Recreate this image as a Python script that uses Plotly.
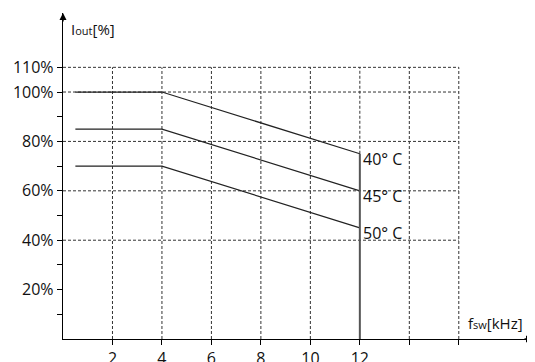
import plotly.graph_objects as go

# derating curves, output current vs switching frequency
freq_khz = [0.5, 4, 12]
iout_40 = [100, 100, 75]
iout_45 = [85, 85, 60]
iout_50 = [70, 70, 45]
curve_labels = ["40° C", "45° C", "50° C"]

x_ticks = [2, 4, 6, 8, 10, 12, 14, 16]
x_ticktext = ["2", "4", "6", "8", "10", "12", "", ""]
y_ticks = [20, 40, 60, 80, 100, 110]
y_ticktext = ["20%", "40%", "60%", "80%", "100%", "110%"]
y_minor = [10, 30, 50, 70, 90]
y_grid = [40, 60, 80, 100, 110]
x_grid = [2, 4, 6, 8, 10, 14, 16]

FONT = "Open Sans"
fig = go.Figure()

for ys in [iout_40, iout_45, iout_50]:
    fig.add_trace(go.Scatter(x=freq_khz, y=ys, mode="lines",
                             line=dict(color="#222", width=1.2),
                             hoverinfo="skip", showlegend=False))

grid = dict(color="#333", width=1, dash="3px,2px")
for gy in y_grid:
    fig.add_shape(type="line", x0=0, x1=16, y0=gy, y1=gy, xref="x", yref="y",
                  line=grid, layer="below")
for gx in x_grid:
    fig.add_shape(type="line", x0=gx, x1=gx, y0=0, y1=110, xref="x", yref="y",
                  line=grid, layer="below")
# at 12 kHz: dashed above the 40C curve end, solid below
fig.add_shape(type="line", x0=12, x1=12, y0=iout_40[-1], y1=110, xref="x", yref="y",
              line=grid, layer="below")
fig.add_shape(type="line", x0=12, x1=12, y0=0, y1=iout_40[-1], xref="x", yref="y",
              line=dict(color="#555", width=2))

for lab, ys in zip(curve_labels, [iout_40, iout_45, iout_50]):
    fig.add_annotation(x=freq_khz[-1], y=ys[-1], text=lab, showarrow=False,
                       xanchor="left", yanchor="middle", xshift=1, yshift=-5,
                       font=dict(family=FONT, size=16, color="#111"))

# arrow heads on the axes
fig.add_annotation(x=19, y=0, ax=-10, ay=0, xref="x", yref="y",
                   text="", showarrow=True, arrowhead=2, arrowsize=1, arrowwidth=1.4,
                   arrowcolor="black")
fig.add_annotation(x=0, y=132, ax=0, ay=10, xref="x", yref="y",
                   text="", showarrow=True, arrowhead=2, arrowsize=1, arrowwidth=1.4,
                   arrowcolor="black")

# axis titles
fig.add_annotation(x=0.25, y=125.5, xref="x", yref="y", xanchor="left", yanchor="middle",
                   text="I<span style='font-size:11px'>out</span>[%]", showarrow=False,
                   font=dict(family=FONT, size=15, color="#111"))
fig.add_annotation(x=16.3, y=6.5, xref="x", yref="y", xanchor="left", yanchor="middle",
                   text="f<span style='font-size:11px'>sw</span>[kHz]", showarrow=False,
                   font=dict(family=FONT, size=15, color="#111"))

fig.update_xaxes(range=[0, 19], showgrid=False, zeroline=False, automargin=False,
                 showline=True, linecolor="black", linewidth=1.4,
                 tickvals=x_ticks, ticktext=x_ticktext, ticks="outside", ticklen=5,
                 tickcolor="black", tickfont=dict(family=FONT, size=16, color="#111"))
fig.update_yaxes(range=[0, 132], showgrid=False, zeroline=False, automargin=False,
                 showline=True, linecolor="black", linewidth=1.4,
                 tickvals=y_ticks, ticktext=y_ticktext, ticks="outside", ticklen=5,
                 tickcolor="black", tickfont=dict(family=FONT, size=16, color="#111"),
                 minor=dict(tickvals=y_minor, ticks="outside", ticklen=5, tickcolor="black"))

# page body has an 8px margin, so the figure is offset by it
fig.update_layout(width=535, height=362, margin=dict(l=55, r=10, t=5, b=31),
                  plot_bgcolor="white", paper_bgcolor="white", showlegend=False)

fig.write_html("out.html")
